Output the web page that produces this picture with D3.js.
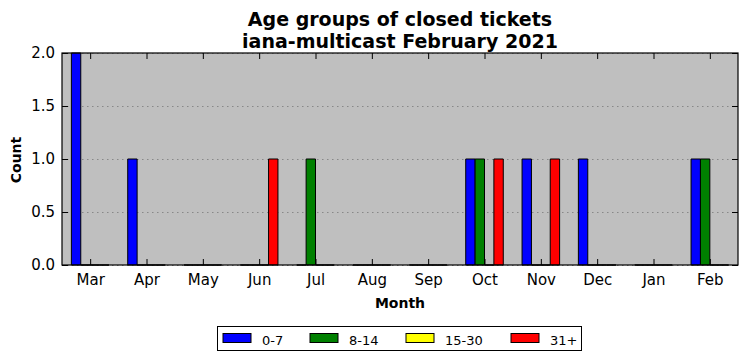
<!DOCTYPE html>
<html>
<head>
<meta charset="utf-8">
<script src="https://cdn.jsdelivr.net/npm/d3@7"></script>
<style>
  body { margin: 0; background: #fff; }
  svg { font-family: "DejaVu Sans", sans-serif; }
</style>
</head>
<body>
<div id="chart"></div>
<script>
// data
var months = ["Mar", "Apr", "May", "Jun", "Jul", "Aug", "Sep", "Oct", "Nov", "Dec", "Jan", "Feb"];
var groups = ["0-7", "8-14", "15-30", "31+"];
var colors = ["#0000ff", "#008000", "#ffff00", "#ff0000"];
var age0to7   = [2, 1, 0, 0, 0, 0, 0, 1, 1, 1, 0, 1];
var age8to14  = [0, 0, 0, 0, 1, 0, 0, 1, 0, 0, 0, 1];
var age15to30 = [0, 0, 0, 0, 0, 0, 0, 0, 0, 0, 0, 0];
var age31plus = [0, 0, 0, 1, 0, 0, 0, 1, 1, 0, 0, 0];
var yTicks = [0, 0.5, 1, 1.5, 2];
var titleLines = ["Age groups of closed tickets", "iana-multicast February 2021"];

var series = [age0to7, age8to14, age15to30, age31plus];

var svgWidth = 747;
var svgHeight = 361;
var margin = { top: 53, right: 9, bottom: 96, left: 62 };
var width = svgWidth - margin.left - margin.right;
var height = svgHeight - margin.top - margin.bottom;

var svg = d3.select("#chart")
  .append("svg")
  .attr("width", svgWidth)
  .attr("height", svgHeight);

var chartGroup = svg.append("g")
  .attr("transform", `translate(${margin.left}, ${margin.top})`);

var xScale = d3.scaleLinear()
  .domain([-0.5, months.length - 0.5])
  .range([0, width]);

var yScale = d3.scaleLinear()
  .domain([0, 2])
  .range([height, 0]);

var barW = 1 / 6;

// background
chartGroup.append("rect")
  .attr("width", width)
  .attr("height", height)
  .attr("fill", "#bfbfbf");

// grid
chartGroup.selectAll(".grid")
  .data(yTicks)
  .enter()
  .append("line")
  .attr("x1", 0)
  .attr("x2", width)
  .attr("y1", d => Math.round(yScale(d)) + 0.5)
  .attr("y2", d => Math.round(yScale(d)) + 0.5)
  .attr("stroke", "#7a7a7a")
  .attr("stroke-width", 0.8)
  .attr("stroke-dasharray", "1.5,3.5");

// bars (paths so zero-height bars still show their edge)
series.forEach(function(vals, si) {
  chartGroup.selectAll(".bar" + si)
    .data(vals)
    .enter()
    .append("path")
    .attr("d", function(d, i) {
      var x0 = xScale(i + (si - 2) * barW);
      var x1 = xScale(i + (si - 1) * barW);
      var y0 = yScale(0);
      var y1 = yScale(d);
      return `M${x0},${y0}V${y1}H${x1}V${y0}Z`;
    })
    .attr("fill", colors[si])
    .attr("stroke", "#000")
    .attr("stroke-width", 1);
});

// axes - classic style, ticks pointing inward on all sides
var bottomAxis = d3.axisBottom(xScale)
  .tickValues(d3.range(months.length))
  .tickFormat(i => months[i])
  .tickSizeInner(-6)
  .tickSizeOuter(0)
  .tickPadding(9);
var topAxis = d3.axisTop(xScale)
  .tickValues(d3.range(months.length))
  .tickFormat("")
  .tickSizeInner(-6)
  .tickSizeOuter(0);
var leftAxis = d3.axisLeft(yScale)
  .tickValues(yTicks)
  .tickFormat(d3.format(".1f"))
  .tickSizeInner(-6)
  .tickSizeOuter(0)
  .tickPadding(7);
var rightAxis = d3.axisRight(yScale)
  .tickValues(yTicks)
  .tickFormat("")
  .tickSizeInner(-6)
  .tickSizeOuter(0);

chartGroup.append("g").attr("transform", `translate(0, ${height})`).call(bottomAxis);
chartGroup.append("g").call(topAxis);
chartGroup.append("g").call(leftAxis);
chartGroup.append("g").attr("transform", `translate(${width}, 0)`).call(rightAxis);

chartGroup.selectAll(".domain").remove();
chartGroup.selectAll(".tick text")
  .attr("font-size", 15)
  .attr("font-family", "DejaVu Sans")
  .attr("fill", "#000");
chartGroup.selectAll(".tick line").attr("stroke", "#000");

// frame
chartGroup.append("rect")
  .attr("width", width)
  .attr("height", height)
  .attr("fill", "none")
  .attr("stroke", "#000")
  .attr("stroke-width", 1.2);

// title, two lines
svg.selectAll(".title")
  .data(titleLines)
  .enter()
  .append("text")
  .attr("class", "title")
  .attr("x", margin.left + width / 2)
  .attr("y", (d, i) => i ? 47.5 : 25.5)
  .attr("text-anchor", "middle")
  .attr("font-weight", "bold")
  .attr("font-size", 19)
  .text(d => d);

// axis labels
svg.append("text")
  .attr("x", margin.left + width / 2)
  .attr("y", 307.5)
  .attr("text-anchor", "middle")
  .attr("font-weight", "bold")
  .attr("font-size", 14)
  .text("Month");

svg.append("text")
  .attr("transform", `translate(21, ${margin.top + height / 2 + 1}) rotate(-90)`)
  .attr("text-anchor", "middle")
  .attr("font-weight", "bold")
  .attr("font-size", 14)
  .text("Count");

// legend
var legendX = [223, 310, 406, 511];
var legend = svg.append("g");
legend.append("rect")
  .attr("x", 217.5)
  .attr("y", 326.5)
  .attr("width", 364)
  .attr("height", 24)
  .attr("fill", "#fff")
  .attr("stroke", "#000");

var items = legend.selectAll(".item")
  .data(groups)
  .enter()
  .append("g")
  .attr("transform", (d, i) => `translate(${legendX[i]}, 333.5)`);

items.append("rect")
  .attr("width", 28)
  .attr("height", 9)
  .attr("fill", (d, i) => colors[i])
  .attr("stroke", "#000");

items.append("text")
  .attr("x", 39)
  .attr("y", 11.5)
  .attr("font-size", 13)
  .text(d => d);
</script>
</body>
</html>
